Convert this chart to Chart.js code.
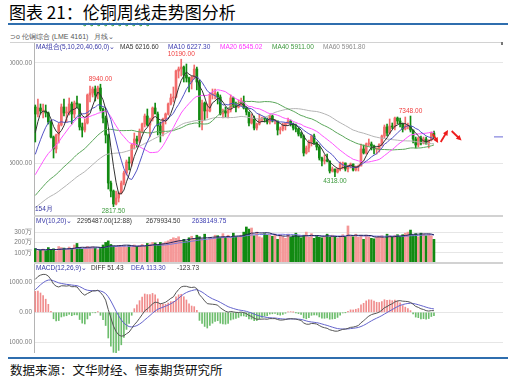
<!DOCTYPE html>
<html>
<head>
<meta charset="utf-8">
<script src="https://cdn.jsdelivr.net/npm/chart.js@4.4.1/dist/chart.umd.min.js"></script>
<style>
  body { margin: 0; width: 511px; height: 385px; background: #fff; position: relative; overflow: hidden; font-family: "Noto Sans CJK SC", sans-serif; }
  #title { position: absolute; left: 9px; top: 0px; font-size: 17px; line-height: 23px; color: #000; white-space: nowrap; }
  .wavy { text-decoration: underline wavy #2a9a2a; text-decoration-thickness: 1px; text-underline-offset: 3px; }
  .rule { position: absolute; left: 8px; width: 500px; height: 2px; background: #2f6eae; }
  #src { position: absolute; left: 10px; top: 361px; font-size: 12.5px; line-height: 18px; color: #111; white-space: nowrap; }
  #bar { position: absolute; left: 10px; top: 32px; font: 7px "Liberation Sans", sans-serif; color: #555; white-space: nowrap; }
  .hl { position: absolute; background: #d2d2d2; }
  canvas { position: absolute; left: 10px; }
</style>
</head>
<body>
<div id="title">图表 21：<span class="wavy">伦铜周线</span>走势图分析</div>
<div class="rule" style="top:23px"></div>
<div id="bar">⊃o 伦铜综合 (LME 4161)&nbsp;&nbsp; 月线⌄</div>
<div class="hl" style="left:10px;top:42px;width:493px;height:1px"></div>
<div class="hl" style="left:501px;top:42px;width:2px;height:3px;background:#777"></div>
<canvas id="price" width="493" height="174" style="top:43px"></canvas>
<canvas id="vol" width="493" height="46" style="top:217px"></canvas>
<canvas id="macd" width="493" height="89" style="top:264px"></canvas>
<div class="hl" style="left:34px;top:215px;width:469px;height:2px"></div>
<div class="hl" style="left:34px;top:262px;width:469px;height:2px"></div>
<div class="rule" style="top:357px"></div>
<div id="src">数据来源：文华财经、恒泰期货研究所</div>
<script>
// monthly LME copper, Jun 2006 .. Mar 2019
const startYear = 2006, startMonth = 6;
const blankSlots = 26;

// closes before the window, used to warm up MA / MACD (Jan 2001 .. May 2006)
const preCloses = [
  1780,1730,1690,1720,1650,1580,1430,1480,1380,1370,1560,1530,
  1560,1570,1620,1600,1610,1650,1470,1460,1450,1540,1600,1540,
  1660,1690,1580,1620,1700,1640,1770,1760,1800,2050,2100,2320,
  2500,2950,3050,2800,2800,2640,2880,2800,3100,2950,3140,3270,
  3170,3330,3400,3400,3150,3550,3660,3900,3940,4100,4300,4580,
  4800,5000,5500,7100,7550
];

const opens = [
  7800,7450,7750,7600,7600,7500,7050,
  6300,5700,6400,6900,7800,7500,7550,7950,7450,8000,7950,6800,
  6650,7000,8400,8500,8700,8400,8750,7700,7250,6400,4000,3600,
  2950,3250,3500,4000,4500,5050,5000,5900,6200,6100,6600,6950,
  7350,6900,7200,7750,7450,6850,6500,7200,7450,7950,8250,8300,
  9600,9700,9800,9400,9250,9050,9300,9700,9050,7100,8000,7600,
  7600,8400,8450,8450,8300,7450,7600,7500,7650,8250,7850,7800,
  7900,8100,7750,7550,7000,7250,6750,6950,7200,7250,7200,7050,
  7350,7100,7100,6650,6700,6900,7000,7100,6950,6750,6700,6450,
  6350,5500,5750,6050,6350,6000,5800,5250,5100,5150,5100,4600,
  4700,4550,4700,4950,5000,4700,4850,4950,4650,4800,4850,5700,
  5500,5950,5950,5850,5700,5700,5950,6350,6800,6500,6850,6800,
  7250,7100,6950,6700,6850,6850,6650,6200,5900,6250,6000,6200,
  5950,6150,6500
];
const highs = [
  7900,8200,7950,7950,7900,7550,7100,
  6350,6450,7000,7950,8200,7800,8250,8050,8100,8350,7950,7000,
  7200,8450,8850,8800,8850,8850,8940,7750,7350,6450,4100,3650,
  3600,3550,4100,4600,5150,5300,5950,6500,6350,6700,7000,7450,
  7700,7250,7800,8000,7550,7050,7250,7500,8000,8450,8800,9650,
  9800,10190,9850,9950,9300,9350,9900,9800,9150,8150,8050,7950,
  8500,8700,8700,8550,8400,7700,7800,7700,8400,8300,8050,8150,
  8250,8350,7800,7550,7450,7350,7000,7450,7300,7300,7250,7400,
  7400,7150,7100,6800,7000,7000,7250,7150,7000,6950,6750,6550,
  6400,5850,6150,6400,6450,6050,5900,5300,5400,5450,5100,4800,
  4700,4750,5050,5050,5000,4900,5000,4950,4850,4900,5950,5900,
  6000,6200,6050,5900,5750,5950,6400,6900,6950,7200,7000,7300,
  7300,7250,7000,7300,7000,7348,6650,6300,6300,6350,6300,6300,
  6150,6550,6600
];
const lows = [
  6050,7300,7450,7250,7300,6950,6250,
  5250,5500,6000,6850,7350,7050,7400,6950,7250,7750,6650,6300,
  6550,6950,8050,8300,8100,8200,7600,7000,6000,3700,3300,2817.5,
  2900,3050,3450,3900,4400,4650,4850,5700,5800,6000,6500,6800,
  6850,6300,7100,7500,6400,6050,6350,6950,7400,7900,8050,8250,
  9250,9350,9050,9050,8550,8700,9200,8650,6800,6650,7150,7250,
  7550,8200,8200,7950,7400,7250,7300,7250,7550,7800,7550,7750,
  7850,7700,7400,6850,6950,6650,6650,6900,7050,7050,6950,6950,
  7050,6950,6400,6450,6600,6650,6950,6850,6650,6550,6350,6250,
  5350,5450,5550,5850,5950,5650,5150,4850,4950,5050,4500,4550,
  4318,4500,4600,4700,4600,4550,4750,4600,4600,4600,4850,5450,
  5450,5850,5650,5450,5450,5550,5850,6250,6350,6450,6700,6650,
  6950,6800,6550,6650,6700,6550,6000,5750,5800,5900,5950,5950,
  5750,6100,6250
];
const closes = [
  7450,7750,7600,7600,7500,7050,6300,
  5700,6400,6900,7800,7500,7550,7950,7450,8000,7950,6800,6650,
  7000,8400,8500,8700,8400,8750,7700,7250,6400,4000,3600,2950,
  3250,3500,4000,4500,5050,5000,5900,6200,6100,6600,6950,7350,
  6900,7200,7750,7450,6850,6500,7200,7450,7950,8250,8300,9600,
  9700,9800,9400,9250,9050,9300,9700,9050,7100,8000,7600,7600,
  8400,8450,8450,8300,7450,7600,7500,7650,8250,7850,7800,7900,
  8100,7750,7550,7000,7250,6750,6950,7200,7250,7200,7050,7350,
  7100,7100,6650,6700,6900,7000,7100,6950,6750,6700,6450,6350,
  5500,5750,6050,6350,6000,5800,5250,5100,5150,5100,4600,4700,
  4550,4700,4950,5000,4700,4850,4950,4650,4800,4850,5700,5500,
  5950,5950,5850,5700,5700,5950,6350,6800,6500,6850,6800,7250,
  7100,6950,6700,6850,6850,6650,6200,5900,6250,6000,6200,5950,
  6150,6500,6330
];
// monthly volume, 万手
const volumes = [
  140,118,125,135,120,150,128,
  138,115,160,150,145,130,155,140,175,190,150,135,
  150,160,150,155,145,130,150,175,200,215,180,165,
  150,170,160,165,155,170,160,175,160,170,180,165,
  190,185,200,195,175,200,190,205,215,230,245,240,
  255,220,230,210,245,260,240,270,255,235,280,225,
  250,240,270,265,245,285,250,270,240,290,255,260,
  270,300,350,330,340,265,300,255,245,285,270,270,
  260,280,230,275,255,240,280,250,265,290,260,245,
  270,300,250,285,240,265,250,245,260,280,250,270,
  255,240,260,275,250,360,260,255,280,250,265,230,
  270,255,240,235,250,260,265,240,280,265,255,270,
  275,260,275,290,300,320,270,285,255,290,280,265,
  280,265,230
];
const markHighs = [8940, 10190, 7348];
const markLows = [2817.5, 4318];

const priceHeader = [
  { x: 36, text: 'MA组合(5,10,20,40,60,0)⌄', color: '#3636a6' },
  { x: 120, text: 'MA5 6216.60', color: '#333333' },
  { x: 168, text: 'MA10 6227.30', color: '#3b3bb0' },
  { x: 220, text: 'MA20 6545.02', color: '#ff33ff' },
  { x: 272, text: 'MA40 5911.00', color: '#3c983c' },
  { x: 323, text: 'MA60 5961.80', color: '#8c8c8c' }
];
const volHeader = [
  { x: 36, text: 'MV(10,20)⌄', color: '#3636a6' },
  { x: 77, text: '2295487.00(12:88)', color: '#333333' },
  { x: 146, text: '2679934.50', color: '#333333' },
  { x: 192, text: '2638149.75', color: '#3b3bb0' }
];
const macdHeader = [
  { x: 36, text: 'MACD(12,26,9)⌄', color: '#3636a6' },
  { x: 91, text: 'DIFF 51.43', color: '#333333' },
  { x: 131, text: 'DEA 113.30', color: '#3b3bb0' },
  { x: 177, text: '-123.73', color: '#333333' }
];

const RED = '#f26c6c', GREEN = '#128a12';
const smallFont = '6.5px "Liberation Sans", sans-serif';

const labels = closes.map((_, i) => {
  const m = startMonth - 1 + i;
  return (startYear + Math.floor(m / 12)) + '-' + String(m % 12 + 1).padStart(2, '0');
});
while (labels.length < closes.length + blankSlots) labels.push('');

const up = closes.map((c, i) => c >= opens[i]);
const candleColors = up.map(u => u ? RED : GREEN);

const all = preCloses.concat(closes);
const pre = preCloses.length;
function ma(n) {
  return closes.map((_, i) => {
    let s = 0;
    for (let k = pre + i - n + 1; k <= pre + i; k++) s += all[k];
    return s / n;
  });
}
function ema(arr, n) {
  const a = 2 / (n + 1);
  let e = arr[0];
  return arr.map((v, i) => (e = i === 0 ? v : a * v + (1 - a) * e));
}
function avgVol(n) {
  return volumes.map((_, i) => {
    const from = Math.max(0, i - n + 1);
    const part = volumes.slice(from, i + 1);
    return part.reduce((s, v) => s + v, 0) / part.length;
  });
}
const e12 = ema(all, 12), e26 = ema(all, 26);
const diffAll = e12.map((v, i) => v - e26[i]);
const deaAll = ema(diffAll, 9);
const diff = diffAll.slice(pre), dea = deaAll.slice(pre);
const hist = diff.map((d, i) => 2 * (d - dea[i]));

function baseOptions(yMin, yMax, tickVals, fmt, extra) {
  return {
    responsive: false,
    animation: false,
    layout: { padding: 0, autoPadding: false },
    plugins: { legend: { display: false }, tooltip: { enabled: false } },
    scales: {
      x: { display: false, offset: true },
      y: {
        min: yMin, max: yMax,
        afterBuildTicks: s => { s.ticks = tickVals.map(v => ({ value: v })); },
        afterFit: s => { s.width = 24; s.paddingTop = 0; s.paddingBottom = 0; },
        ticks: { font: { family: 'Liberation Sans', size: 6.5 }, color: '#7a7a7a', padding: 2, callback: fmt },
        grid: { color: '#e6e6e6', drawTicks: false },
        border: { color: '#b4b4b4' }
      }
    },
    extra: extra
  };
}

function headerPlugin(items) {
  return {
    id: 'header',
    afterDraw(chart) {
      const c = chart.ctx;
      c.save();
      c.font = smallFont;
      c.textBaseline = 'top';
      items.forEach(it => { c.fillStyle = it.color; c.fillText(it.text, it.x - 10, 1); });
      c.restore();
    }
  };
}

function line(data, color) {
  return { type: 'line', data: data, borderColor: color, borderWidth: 1, pointRadius: 0, tension: 0, order: 0 };
}

const pricePlugin = {
  id: 'priceMarks',
  afterDatasetsDraw(chart) {
    const c = chart.ctx, x = chart.scales.x, y = chart.scales.y, area = chart.chartArea;
    c.save();
    c.font = smallFont;
    c.textAlign = 'center';
    c.textBaseline = 'middle';
    markHighs.forEach(v => {
      const i = highs.indexOf(v);
      c.fillStyle = '#f03c3c';
      c.fillText(v.toFixed(2), x.getPixelForValue(i), y.getPixelForValue(v) - 5);
    });
    markLows.forEach(v => {
      const i = lows.indexOf(v);
      c.fillStyle = '#3c9a3c';
      c.fillText(v.toFixed(2), x.getPixelForValue(i), y.getPixelForValue(v) + 5);
    });
    c.textAlign = 'left';
    c.fillStyle = '#3434a0';
    c.fillText(closes.length + '月', area.left + 1, area.bottom - 8);

    // current price marker at right edge
    const last = y.getPixelForValue(closes[closes.length - 1]) + 0.5;
    c.strokeStyle = '#6a6ad6';
    c.lineWidth = 1;
    c.beginPath(); c.moveTo(area.right - 9, last); c.lineTo(area.right, last); c.stroke();

    // hand drawn forecast arrows
    const arrows = [[152.6, 6450, 154.6, 6000], [155.6, 6050, 158.4, 6650], [159.8, 6600, 163.6, 6120]];
    c.strokeStyle = '#ee1c1c';
    c.fillStyle = '#ee1c1c';
    c.lineWidth = 1.8;
    arrows.forEach(a => {
      const x1 = x.getPixelForValue(a[0]), y1 = y.getPixelForValue(a[1]);
      const x2 = x.getPixelForValue(a[2]), y2 = y.getPixelForValue(a[3]);
      const ang = Math.atan2(y2 - y1, x2 - x1);
      c.beginPath(); c.moveTo(x1, y1); c.lineTo(x2 - 3 * Math.cos(ang), y2 - 3 * Math.sin(ang)); c.stroke();
      c.beginPath();
      c.moveTo(x2, y2);
      c.lineTo(x2 - 6 * Math.cos(ang - 0.45), y2 - 6 * Math.sin(ang - 0.45));
      c.lineTo(x2 - 6 * Math.cos(ang + 0.45), y2 - 6 * Math.sin(ang + 0.45));
      c.closePath(); c.fill();
    });
    c.restore();
  }
};

new Chart(document.getElementById('price'), {
  type: 'bar',
  data: {
    labels: labels,
    datasets: [
      line(ma(5), '#333333'),
      line(ma(10), '#5252c4'),
      line(ma(20), '#ff55ff'),
      line(ma(40), '#5aa65a'),
      line(ma(60), '#b4b4b4'),
      { data: closes.map((c, i) => [opens[i], c]), backgroundColor: candleColors, barThickness: 2, grouped: false, minBarLength: 1, order: 2 },
      { data: closes.map((c, i) => [lows[i], highs[i]]), backgroundColor: candleColors, barThickness: 1, grouped: false, order: 3 }
    ]
  },
  options: baseOptions(2300, 11000, [5000, 10000], v => v.toFixed(2)),
  plugins: [headerPlugin(priceHeader), pricePlugin]
});

new Chart(document.getElementById('vol'), {
  type: 'bar',
  data: {
    labels: labels,
    datasets: [
      line(avgVol(10), '#22225e'),
      line(avgVol(20), '#7a7adc'),
      { data: volumes, backgroundColor: up.map(u => u ? '#f59898' : GREEN), barThickness: 2, grouped: false, order: 2 }
    ]
  },
  options: baseOptions(0, 447, [100, 200, 300], v => v + '万'),
  plugins: [headerPlugin(volHeader)]
});

new Chart(document.getElementById('macd'), {
  type: 'bar',
  data: {
    labels: labels,
    datasets: [
      line(diff, '#555555'),
      line(dea, '#6464cc'),
      { data: hist, backgroundColor: hist.map(h => h >= 0 ? '#f08c8c' : '#6cbd6c'), barThickness: 1, grouped: false, order: 2 }
    ]
  },
  options: baseOptions(-1366, 1621, [-1000, 0, 1000], v => v.toFixed(2)),
  plugins: [headerPlugin(macdHeader)]
});
</script>
</body>
</html>
